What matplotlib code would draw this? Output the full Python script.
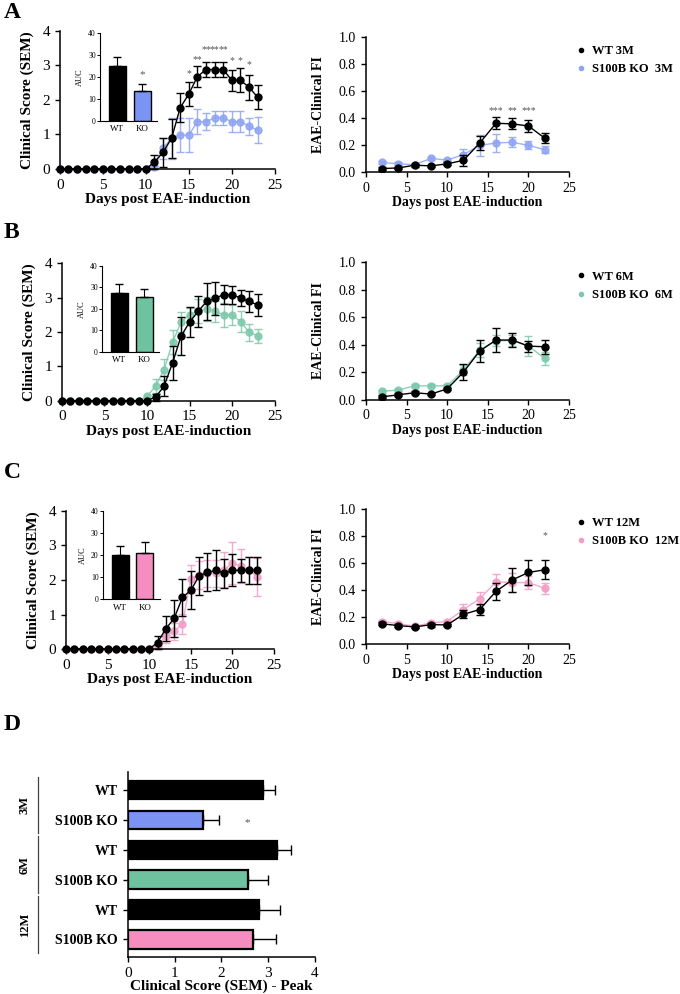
import numpy as np
import matplotlib.pyplot as plt
from matplotlib.lines import Line2D

plt.rcParams['font.family'] = ['Liberation Serif', 'DejaVu Serif']

# ---- clinical score time course (days 0-23) ----
days_score = np.arange(0, 24)

wt3_score = [0, 0, 0, 0, 0, 0, 0, 0, 0, 0, 0,
             0.2, 0.48, 0.89, 1.77, 2.17, 2.67, 2.88, 2.88, 2.88, 2.57, 2.57, 2.37, 2.08]
wt3_score_err = [0, 0, 0, 0, 0, 0, 0, 0, 0, 0, 0,
                 0.2, 0.43, 0.57, 0.42, 0.36, 0.3, 0.23, 0.23, 0.23, 0.3, 0.34, 0.36, 0.34]
ko3_score = [0, 0, 0, 0, 0, 0, 0, 0, 0, 0, 0,
             0.05, 0.6, 0.89, 0.98, 0.98, 1.37, 1.37, 1.48, 1.48, 1.37, 1.37, 1.24, 1.13]
ko3_score_err = [0, 0, 0, 0, 0, 0, 0, 0, 0, 0, 0,
                 0.05, 0.3, 0.6, 0.5, 0.5, 0.36, 0.25, 0.2, 0.2, 0.3, 0.3, 0.25, 0.37]

wt6_score = [0, 0, 0, 0, 0, 0, 0, 0, 0, 0, 0,
             0.1, 0.42, 1.1, 1.88, 2.29, 2.6, 2.89, 2.98, 3.09, 3.09, 2.99, 2.89, 2.79]
wt6_score_err = [0, 0, 0, 0, 0, 0, 0, 0, 0, 0, 0,
                 0.1, 0.3, 0.5, 0.55, 0.45, 0.45, 0.53, 0.47, 0.27, 0.26, 0.23, 0.3, 0.33]
ko6_score = [0, 0, 0, 0, 0, 0, 0, 0, 0, 0, 0.12,
             0.42, 0.9, 1.7, 2.29, 2.5, 2.6, 2.68, 2.6, 2.5, 2.5, 2.3, 1.99, 1.89]
ko6_score_err = [0, 0, 0, 0, 0, 0, 0, 0, 0, 0, 0.05,
                 0.2, 0.3, 0.35, 0.3, 0.2, 0.35, 0.35, 0.3, 0.35, 0.3, 0.3, 0.25, 0.2]

wt12_score = [0, 0, 0, 0, 0, 0, 0, 0, 0, 0, 0,
              0.19, 0.59, 0.89, 1.5, 1.7, 2.12, 2.22, 2.28, 2.2, 2.28, 2.28, 2.28, 2.28]
wt12_score_err = [0, 0, 0, 0, 0, 0, 0, 0, 0, 0, 0,
                  0.19, 0.36, 0.53, 0.54, 0.55, 0.54, 0.55, 0.58, 0.42, 0.46, 0.34, 0.4, 0.4]
ko12_score = [0, 0, 0, 0, 0, 0, 0, 0, 0, 0, 0,
              0.1, 0.39, 0.51, 0.73, 2.03, 2.15, 2.19, 2.19, 2.3, 2.49, 2.4, 2.28, 2.09]
ko12_score_err = [0, 0, 0, 0, 0, 0, 0, 0, 0, 0, 0,
                  0.1, 0.2, 0.25, 0.3, 0.4, 0.4, 0.4, 0.4, 0.5, 0.6, 0.5, 0.4, 0.55]

# ---- EAE-clinical FI (every second day) ----
days_fi = [2, 4, 6, 8, 10, 12, 14, 16, 18, 20, 22]

wt3_fi = [0.025, 0.03, 0.05, 0.045, 0.06, 0.086, 0.214, 0.36, 0.356, 0.34, 0.25]
wt3_fi_err = [0.01, 0.01, 0.01, 0.01, 0.01, 0.04, 0.05, 0.045, 0.04, 0.045, 0.035]
ko3_fi = [0.07, 0.06, 0.054, 0.1, 0.088, 0.128, 0.197, 0.214, 0.22, 0.197, 0.165]
ko3_fi_err = [0.01, 0.01, 0.01, 0.01, 0.01, 0.04, 0.08, 0.07, 0.035, 0.03, 0.025]

wt6_fi = [0.02, 0.035, 0.05, 0.04, 0.078, 0.2, 0.354, 0.434, 0.434, 0.39, 0.385]
wt6_fi_err = [0.01, 0.01, 0.01, 0.01, 0.01, 0.06, 0.08, 0.085, 0.05, 0.04, 0.05]
ko6_fi = [0.06, 0.07, 0.1, 0.1, 0.1, 0.215, 0.36, 0.43, 0.43, 0.39, 0.3]
ko6_fi_err = [0.01, 0.01, 0.01, 0.01, 0.01, 0.035, 0.05, 0.04, 0.04, 0.07, 0.05]

wt12_fi = [0.15, 0.137, 0.127, 0.144, 0.142, 0.22, 0.256, 0.39, 0.475, 0.53, 0.55]
wt12_fi_err = [0.01, 0.01, 0.01, 0.015, 0.01, 0.03, 0.04, 0.06, 0.09, 0.09, 0.07]
ko12_fi = [0.167, 0.152, 0.132, 0.157, 0.167, 0.256, 0.336, 0.46, 0.455, 0.455, 0.413]
ko12_fi_err = [0.01, 0.01, 0.01, 0.01, 0.01, 0.04, 0.05, 0.06, 0.07, 0.05, 0.04]

# ---- AUC insets ----
auc_groups = ['WT', 'KO']
auc3 = [25.3, 13.6]
auc3_err = [3.7, 3.2]
auc6 = [27.6, 25.6]
auc6_err = [4.1, 3.6]
auc12 = [20.2, 21.2]
auc12_err = [4.2, 5.1]

# ---- significance marks ----
a_star_days = [15, 16, 17, 18, 19, 20, 21, 22]
a_star_text = ['*', '**', '**', '**', '**', '*', '*', '*']
a_star_y = [2.62, 3.05, 3.32, 3.32, 3.32, 3.02, 3.02, 2.9]
a_fi_star_days = [16, 18, 20]
a_fi_star_text = ['***', '**', '***']
c_fi_star_days = [22]
c_fi_star_text = ['*']

# ---- peak clinical score (D) ----
peak_labels = ['WT', 'S100B KO', 'WT', 'S100B KO', 'WT', 'S100B KO']
peak_values = [2.9, 1.6, 3.2, 2.57, 2.8, 2.68]
peak_err = [0.25, 0.35, 0.3, 0.43, 0.45, 0.48]
age_groups = ['3M', '6M', '12M']

blue_bar, blue_line = '#7b93f3', '#8ea4f2'
green_bar, green_line = '#6fc29f', '#7cc8aa'
pink_bar, pink_line = '#f58dc0', '#f39bc6'
peak_colors = ['black', blue_bar, 'black', green_bar, 'black', pink_bar]
star_col = '#555555'

fig = plt.figure(figsize=(6.8, 9.94), dpi=100)


def style(ax):
    ax.spines['top'].set_visible(False)
    ax.spines['right'].set_visible(False)
    ax.tick_params(direction='out', length=3.5, width=1)
    for s in ['left', 'bottom']:
        ax.spines[s].set_linewidth(1.1)


def score_panel(rect, wt, wt_e, ko, ko_e, col):
    ax = fig.add_axes(rect)
    ax.errorbar(days_score, ko, yerr=ko_e, color=col, marker='o', ms=5, lw=1,
                elinewidth=1, capsize=3, alpha=0.85, clip_on=False, zorder=2)
    ax.errorbar(days_score, wt, yerr=wt_e, color='black', marker='o', ms=5, lw=1,
                elinewidth=1, capsize=3, clip_on=False, zorder=3)
    ax.set_xlim(0, 25)
    ax.set_ylim(0, 4)
    ax.set_xticks([0, 5, 10, 15, 20, 25])
    ax.set_yticks([0, 1, 2, 3, 4])
    ax.tick_params(labelsize=11)
    ax.set_ylabel('Clinical Score (SEM)', fontsize=11, fontweight='bold', labelpad=6)
    ax.set_xlabel('Days post EAE-induction', fontsize=11, fontweight='bold', labelpad=1)
    style(ax)
    return ax


def auc_inset(rect, vals, errs, col):
    ax = fig.add_axes(rect)
    ax.bar([0, 1], vals, width=0.68, color=['black', col], edgecolor='black', lw=1)
    ax.errorbar([0, 1], vals, yerr=[[0, 0], errs], fmt='none', ecolor='black',
                elinewidth=0.8, capsize=3)
    ax.set_xlim(-0.7, 1.6)
    ax.set_ylim(0, 40)
    ax.set_yticks([0, 10, 20, 30, 40])
    ax.set_xticks([0, 1])
    ax.set_xticklabels(auc_groups)
    ax.tick_params(axis='y', labelsize=5.5, length=2, width=0.7, pad=1)
    ax.tick_params(axis='x', labelsize=6.5, length=0, pad=3)
    ax.set_ylabel('AUC', fontsize=6, labelpad=3)
    ax.spines['top'].set_visible(False)
    ax.spines['right'].set_visible(False)
    for s in ['left', 'bottom']:
        ax.spines[s].set_linewidth(0.8)
    return ax


def fi_panel(rect, wt, wt_e, ko, ko_e, col, wt_lab, ko_lab):
    ax = fig.add_axes(rect)
    ax.errorbar(days_fi, ko, yerr=ko_e, color=col, marker='o', ms=5, lw=1,
                elinewidth=1, capsize=3, alpha=0.85, zorder=2)
    ax.errorbar(days_fi, wt, yerr=wt_e, color='black', marker='o', ms=5, lw=1,
                elinewidth=1, capsize=3, zorder=3)
    ax.set_xlim(0, 25)
    ax.set_ylim(0, 1)
    ax.set_xticks([0, 5, 10, 15, 20, 25])
    ax.set_yticks([0, 0.2, 0.4, 0.6, 0.8, 1.0])
    ax.set_yticklabels(['0.0', '0.2', '0.4', '0.6', '0.8', '1.0'])
    ax.tick_params(labelsize=10)
    ax.set_ylabel('EAE-Clinical FI', fontsize=10, fontweight='bold', labelpad=10)
    ax.set_xlabel('Days post EAE-induction', fontsize=10, fontweight='bold', labelpad=1)
    style(ax)
    handles = [Line2D([], [], ls='none', marker='o', ms=3, color='black'),
               Line2D([], [], ls='none', marker='o', ms=3, color=col)]
    ax.legend(handles, [wt_lab, ko_lab], loc='upper left', bbox_to_anchor=(1.045, 0.94),
              frameon=False, handlelength=0.5, handletextpad=0.6, labelspacing=0.5,
              borderpad=0, borderaxespad=0, prop={'weight': 'bold', 'size': 9})
    return ax


def panel_letter(x, y, s):
    fig.text(x / 680, 1 - y / 994, s, fontsize=17, fontweight='bold', va='top', ha='left')


# ---------------- A ----------------
panel_letter(4, 2, 'A')
axA = score_panel([0.088, 0.830, 0.316, 0.139], wt3_score, wt3_score_err,
                  ko3_score, ko3_score_err, blue_line)
for d, t, yy in zip(a_star_days, a_star_text, a_star_y):
    axA.text(d, yy, t, ha='center', va='bottom', fontsize=7, color=star_col)
insA = auc_inset([0.147, 0.878, 0.084, 0.0885], auc3, auc3_err, blue_bar)
insA.text(1, auc3[1] + auc3_err[1] + 2.5, '*', ha='center', va='bottom', fontsize=8, color=star_col)
axA2 = fi_panel([0.538, 0.827, 0.299, 0.136], wt3_fi, wt3_fi_err, ko3_fi, ko3_fi_err,
                blue_line, 'WT 3M', 'S100B KO  3M')
for d, t in zip(a_fi_star_days, a_fi_star_text):
    axA2.text(d, 0.42, t, ha='center', va='bottom', fontsize=7, color=star_col)

# ---------------- B ----------------
panel_letter(4, 222, 'B')
score_panel([0.091, 0.597, 0.313, 0.138], wt6_score, wt6_score_err,
            ko6_score, ko6_score_err, green_line)
auc_inset([0.150, 0.646, 0.084, 0.0865], auc6, auc6_err, green_bar)
fi_panel([0.538, 0.598, 0.299, 0.138], wt6_fi, wt6_fi_err, ko6_fi, ko6_fi_err,
         green_line, 'WT 6M', 'S100B KO  6M')

# ---------------- C ----------------
panel_letter(4, 462, 'C')
score_panel([0.097, 0.347, 0.306, 0.139], wt12_score, wt12_score_err,
            ko12_score, ko12_score_err, pink_line)
auc_inset([0.151, 0.397, 0.084, 0.0885], auc12, auc12_err, pink_bar)
axC2 = fi_panel([0.538, 0.352, 0.299, 0.136], wt12_fi, wt12_fi_err, ko12_fi, ko12_fi_err,
                pink_line, 'WT 12M', 'S100B KO  12M')
for d, t in zip(c_fi_star_days, c_fi_star_text):
    axC2.text(d, 0.77, t, ha='center', va='bottom', fontsize=7, color=star_col)

# ---------------- D ----------------
panel_letter(4, 714, 'D')
axD = fig.add_axes([0.188, 0.037, 0.275, 0.186])
ypos = np.arange(len(peak_values))
axD.barh(ypos, peak_values, height=0.62, color=peak_colors, edgecolor='black', lw=1.6)
axD.errorbar(peak_values, ypos, xerr=[np.zeros(len(peak_err)), peak_err], fmt='none',
             ecolor='black', elinewidth=1, capsize=3.5)
axD.set_ylim(5.6, -0.6)
axD.set_xlim(0, 4)
axD.set_xticks([0, 1, 2, 3, 4])
axD.set_yticks(ypos)
axD.set_yticklabels(peak_labels, fontweight='bold')
axD.tick_params(axis='y', labelsize=10)
axD.tick_params(axis='x', labelsize=11)
axD.set_xlabel('Clinical Score (SEM) - Peak', fontsize=11, fontweight='bold', labelpad=0)
style(axD)
axD.text(2.55, 1.1, '*', ha='center', va='center', fontsize=8, color=star_col)
trans = axD.get_yaxis_transform()
for i, g in enumerate(age_groups):
    y0, y1 = 2 * i - 0.45, 2 * i + 1.45
    axD.plot([-0.48, -0.48], [y0, y1], color='#444444', lw=0.9, transform=trans, clip_on=False)
    axD.text(-0.55, 2 * i + 0.5, g, rotation=90, ha='center', va='center', fontsize=9,
             fontweight='bold', transform=trans)

fig.savefig('out.png', dpi=100)
